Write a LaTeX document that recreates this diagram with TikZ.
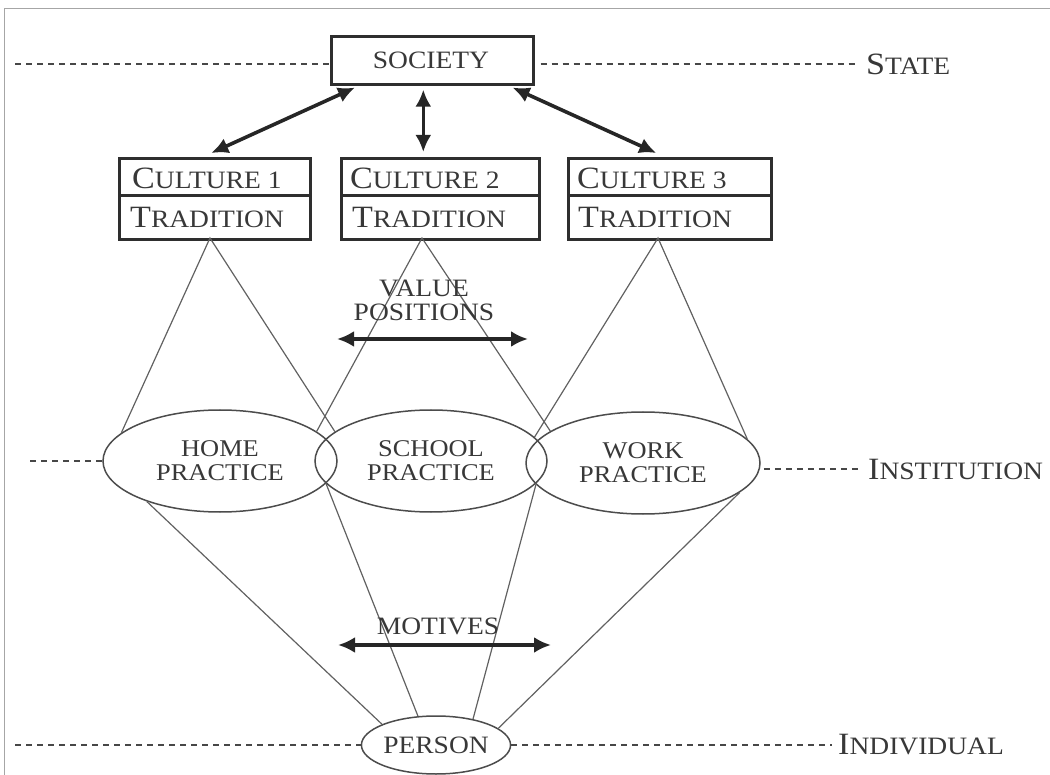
\documentclass[tikz,border=0pt]{standalone}
\usepackage{fontspec}
\setmainfont{Liberation Serif}[FakeStretch=1.1]
\usetikzlibrary{arrows.meta,shapes.geometric}
\newcommand\scA[2]{{\fontsize{31}{31}\selectfont #1}{\fontsize{25}{25}\selectfont #2}}
\newcommand\lb{\fontsize{25}{24}\selectfont}
\newcommand\lbs{\fontsize{24}{24}\selectfont}
\begin{document}
\begin{tikzpicture}[x=1pt,y=-1pt,
  txt/.style={text=black!78, inner sep=0pt},
  boxpart/.style={draw=black!82, line width=2.6pt, rectangle, inner sep=0pt, anchor=north west},
  oval/.style={draw=black!70, line width=1.5pt, ellipse, inner sep=0pt, text=black!78, align=center},
  thin/.style={draw=black!62, line width=1.2pt},
  dashline/.style={draw=black!72, line width=1.4pt, dash pattern=on 6pt off 5pt},
  dbl/.style={draw=black!85, line width=3.6pt, {Latex[length=17pt,width=16pt]}-{Latex[length=17pt,width=16pt]}}]
\useasboundingbox (0,0) rectangle (1050,775);
\draw[black!35, line width=1pt] (4,780) -- (4,9) -- (1050,9);

% society
\node[boxpart, minimum width=202, minimum height=48] (society) at (330,35) {};
\node[txt] (societyt) at (431,60) {\lb SOCIETY};

% cultures
\node[boxpart, minimum width=191, minimum height=37] (c1) at (118,157) {};
\node[boxpart, minimum width=191, minimum height=44] (t1) at (118,194) {};
\node[boxpart, minimum width=198, minimum height=37] (c2) at (340,157) {};
\node[boxpart, minimum width=198, minimum height=44] (t2) at (340,194) {};
\node[boxpart, minimum width=203, minimum height=37] (c3) at (567,157) {};
\node[boxpart, minimum width=203, minimum height=44] (t3) at (567,194) {};
\node[txt, anchor=base west] (c1t) at (132,189) {\scA{C}{ULTURE 1}};
\node[txt, anchor=base west] (t1t) at (130,228) {\scA{T}{RADITION}};
\node[txt, anchor=base west] (c2t) at (350,189) {\scA{C}{ULTURE 2}};
\node[txt, anchor=base west] (t2t) at (352,228) {\scA{T}{RADITION}};
\node[txt, anchor=base west] (c3t) at (577,189) {\scA{C}{ULTURE 3}};
\node[txt, anchor=base west] (t3t) at (578,228) {\scA{T}{RADITION}};

% arrows society-culture
\draw[dbl] ([xshift=25pt,yshift=-2pt]society.south west) -- ([xshift=-3.5pt,yshift=4pt]c1.north);
\draw[dbl] ([xshift=-9pt,yshift=-4pt]society.south) -- ([xshift=-17pt,yshift=5pt]c2.north);
\draw[dbl] ([xshift=-22pt,yshift=-2pt]society.south east) -- ([xshift=-13.5pt,yshift=4pt]c3.north);

% practices
\node[oval, font=\lbs, minimum width=234, minimum height=102] (home) at (220,461) {HOME\\PRACTICE};
\node[oval, font=\lbs, minimum width=232, minimum height=102] (school) at (431,461) {SCHOOL\\PRACTICE};
\node[oval, font=\lbs, minimum width=234, minimum height=102] (work) at (643,463) {WORK\\PRACTICE};
\node[oval, font=\lb, minimum width=146, minimum height=58] (person) at (436,745) {PERSON};

% apexes
\coordinate (a1) at (210,238);
\coordinate (a2) at (422,238);
\coordinate (a3) at (658,238);
\draw[thin] (home.164) -- (a1) -- (school.163);
\draw[thin] (home.17) -- (a2) -- (work.161);
\draw[thin] (school.13) -- (a3) -- (work.13);

% lower lines
\draw[thin] (home.209) -- (person.159);
\draw[thin] (home.-12) -- (person.122);
\draw[thin] (school.-12) -- (person.35);
\draw[thin] (work.-17) -- (person.15);

% value positions & motives
\node[txt, font=\lb, align=center] (vp) at (424,300) {VALUE\\POSITIONS};
\coordinate (va1) at (337,339);
\coordinate (va2) at (528,339);
\draw[dbl] (va1) -- (va2);
\node[txt, font=\lb] (mot) at (438,626) {MOTIVES};
\coordinate (ma1) at (338,645);
\coordinate (ma2) at (551,645);
\draw[dbl] (ma1) -- (ma2);

% level labels
\node[txt, anchor=west] (state) at (866,64) {\scA{S}{TATE}};
\node[txt, anchor=west] (inst) at (868,469) {\scA{I}{NSTITUTION}};
\node[txt, anchor=west] (indiv) at (838,745) {\scA{I}{NDIVIDUAL}};
\coordinate (sL) at (15,64);
\coordinate (iL) at (30,461);
\coordinate (pL) at (15,745);
\draw[dashline] (sL) -- (society.west |- sL);
\draw[dashline] ([xshift=6pt]society.east |- sL) -- ([xshift=-8pt]state.west);
\draw[dashline] (iL) -- (home.west);
\draw[dashline] ([xshift=3pt]work.east |- inst.west) -- ([xshift=-10pt]inst.west);
\draw[dashline] (pL) -- (person.west);
\draw[dashline] (person.east) -- ([xshift=-6pt]indiv.west |- person.east);
\end{tikzpicture}
\end{document}
